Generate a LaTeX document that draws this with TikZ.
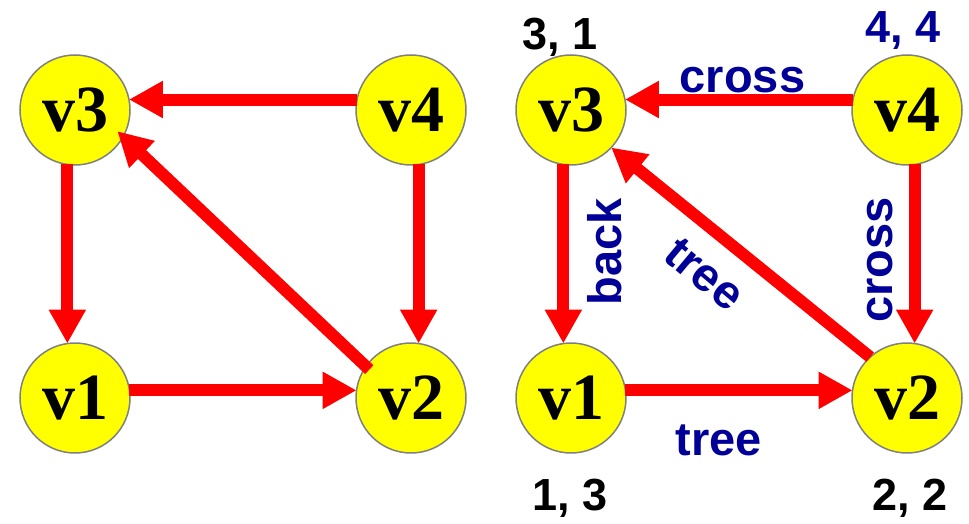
\documentclass[tikz,border=0pt]{standalone}
\usepackage{fontspec}
\setmainfont{Liberation Serif}
\setsansfont{Liberation Sans}
\usetikzlibrary{arrows.meta,positioning,calc}
\definecolor{ring}{HTML}{808080}
\definecolor{vyellow}{HTML}{FFFF00}
\definecolor{vred}{HTML}{FF0000}
\definecolor{navy}{HTML}{000099}

\begin{document}
\begin{tikzpicture}[
  x=1pt, y=1pt,
  node distance=178pt and 226pt,
  vtx/.style={circle, draw=ring, line width=1.5pt, fill=vyellow, minimum size=110pt, inner sep=0pt, outer sep=0pt, font=\fontsize{66}{66}\selectfont\bfseries},
  arrow/.style={-{Triangle[length=34pt,width=35pt]}, line width=12pt, draw=vred},
  tag/.style={inner sep=0pt, text=navy, font=\fontsize{47}{47}\selectfont\sffamily\bfseries},
  num/.style={inner sep=0pt, anchor=base, font=\fontsize{45}{45}\selectfont\sffamily\bfseries}
]
  \useasboundingbox (0,0) rectangle (969,523);

  % left graph
  \node[vtx] (av3) at (75,413) {v3};
  \node[vtx, right=of av3] (av4) {v4};
  \node[vtx, below=of av3] (av1) {v1};
  \node[vtx, below=of av4] (av2) {v2};

  \draw[arrow] (av4.169) -- (av3.11);
  \draw[arrow] (av3.262) -- (av1.98);
  \draw[arrow] (av4.278) -- (av2.82);
  \draw[arrow] (av1.8) -- (av2.172);
  \draw[arrow, shorten <=-4.6pt, shorten >=-8pt] (av2.145) -- (av3.-29);

  % right graph, with DFS numbers
  \node[vtx, right=50pt of av4] (bv3) {v3};
  \node[vtx, right=of bv3] (bv4) {v4};
  \node[vtx, below=of bv3] (bv1) {v1};
  \node[vtx, below=of bv4] (bv2) {v2};

  \draw[arrow] (bv4.169) -- (bv3.11);
  \draw[arrow] (bv3.262) -- (bv1.98);
  \draw[arrow] (bv4.278) -- (bv2.82);
  \draw[arrow] (bv1.8) -- (bv2.172);
  \draw[arrow] (bv2.132) -- (bv3.-43);

  \node[tag, anchor=base] (crosstop) at ($(bv4.169)!.5!(bv3.11)+(3.5,7.5)$) {cross};
  \node[tag, anchor=base, rotate=90] (back) at ($(bv3.262)!.5!(bv1.98)+(58,2)$) {back};
  \node[tag, anchor=base, rotate=90] (crossright) at ($(bv4.278)!.5!(bv2.82)+(-22,-6)$) {cross};
  \node[tag, anchor=base] (treebottom) at ($(bv1.8)!.5!(bv2.172)+(-20,-64.7)$) {tree};
  \node[tag, rotate=-40] (treediag) at ($(bv2.132)!.5!(bv3.-43)+(-36,-22)$) {tree};

  \node[num] (n3) at ($(bv3.north)+(-11,5)$) {3, 1};
  \node[num, text=navy] (n4) at ($(bv4.north)+(-4,12)$) {4, 4};
  \node[num] (n1) at ($(bv1.south)+(-1,-57)$) {1, 3};
  \node[num] (n2) at ($(bv2.south)+(3,-57)$) {2, 2};
\end{tikzpicture}
\end{document}
